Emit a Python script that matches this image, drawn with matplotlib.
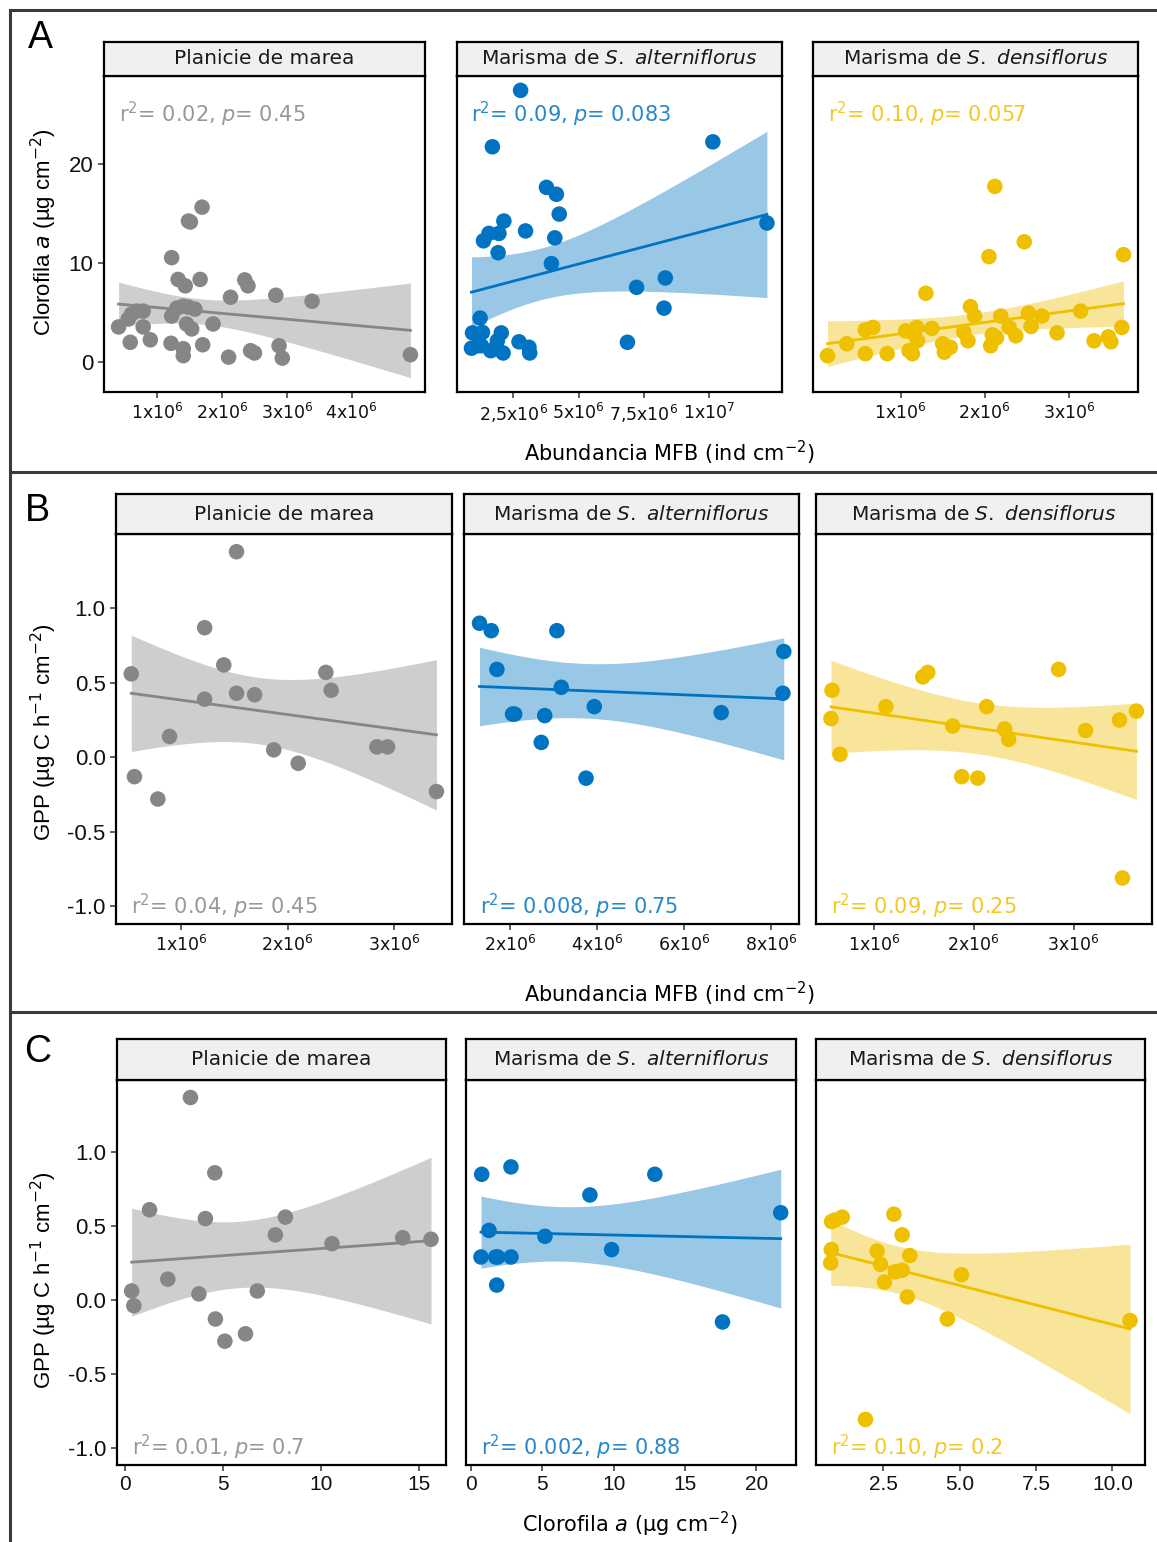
import numpy as np
import matplotlib
matplotlib.use('agg')
import matplotlib.pyplot as plt
from matplotlib.lines import Line2D

plt.rcParams['font.family'] = 'DejaVu Sans'
plt.rcParams['mathtext.fontset'] = 'dejavusans'

W, H = 1157, 1542

facet_names = ['Planicie de marea',
               'Marisma de $\\mathit{S.\\ alterniflorus}$',
               'Marisma de $\\mathit{S.\\ densiflorus}$']
colors = ['#868686', '#0073C2', '#EFC000']

# A: clorofila a vs abundancia MFB (x in millions of ind cm-2)
a_plan_x = [0.40, 0.55, 0.60, 0.68, 0.78, 0.58, 0.78, 0.89, 1.21, 1.22, 1.22, 1.32, 1.43, 1.30, 1.40,
            1.48, 1.51, 1.69, 1.66, 1.45, 1.53, 1.40, 1.40, 1.48, 1.58, 1.70, 1.86, 2.10, 2.13, 2.35,
            2.40, 2.44, 2.50, 2.83, 2.88, 2.93, 3.39, 4.91]
a_plan_y = [3.5, 4.3, 4.8, 5.1, 5.1, 1.95, 3.5, 2.2, 1.85, 10.5, 4.6, 8.3, 7.65, 5.4, 5.6,
            14.2, 14.1, 15.6, 8.3, 3.8, 3.3, 1.3, 0.6, 5.5, 5.3, 1.7, 3.8, 0.45, 6.5, 8.25,
            7.65, 1.1, 0.87, 6.7, 1.6, 0.35, 6.1, 0.7]
a_alt_x = [2.78, 1.70, 3.77, 4.15, 4.26, 4.09, 3.96, 2.97, 2.14, 1.36, 1.57, 1.95, 1.92, 1.23, 0.94,
           1.32, 2.04, 0.90, 1.28, 1.64, 1.89, 2.11, 2.72, 3.10, 3.13, 1.13, 6.87, 7.22, 8.32, 8.27,
           10.14, 12.21]
a_alt_y = [27.4, 21.7, 17.6, 16.9, 14.9, 12.5, 9.9, 13.2, 14.2, 12.2, 12.95, 12.95, 11.0, 4.4, 2.9,
           2.95, 2.9, 1.35, 1.6, 1.1, 2.1, 0.87, 2.0, 1.45, 0.87, 1.6, 1.95, 7.5, 8.45, 5.4,
           22.2, 14.0]
a_den_x = [0.13, 0.36, 0.58, 0.58, 0.67, 0.84, 1.06, 1.10, 1.14, 1.19, 1.20, 1.16, 1.30, 1.37, 1.50,
           1.52, 1.59, 1.75, 1.80, 1.83, 1.88, 2.05, 2.07, 2.09, 2.14, 2.12, 2.19, 2.29, 2.37, 2.47,
           2.52, 2.55, 2.68, 2.86, 3.14, 3.30, 3.47, 3.50, 3.63, 3.65]
a_den_y = [0.6, 1.8, 0.8, 3.2, 3.45, 0.8, 3.1, 1.1, 0.8, 3.45, 2.1, 2.8, 6.9, 3.35, 1.8,
           0.95, 1.45, 3.0, 2.1, 5.55, 4.6, 10.6, 1.6, 2.7, 2.4, 17.7, 4.6, 3.45, 2.6, 12.1,
           4.9, 3.55, 4.6, 2.9, 5.1, 2.1, 2.5, 2.0, 3.45, 10.8]

# B: GPP vs abundancia MFB (millions)
b_plan_x = [0.53, 0.56, 0.78, 0.89, 1.22, 1.22, 1.40, 1.52, 1.52, 1.69, 1.87, 2.10, 2.36, 2.41, 2.84, 2.94, 3.40]
b_plan_y = [0.56, -0.13, -0.28, 0.14, 0.87, 0.39, 0.62, 1.38, 0.43, 0.42, 0.05, -0.04, 0.57, 0.45, 0.07, 0.07, -0.23]
b_alt_x = [1.29, 1.56, 1.69, 2.05, 2.10, 2.79, 2.71, 3.07, 3.17, 3.74, 3.93, 6.85, 8.29, 8.27]
b_alt_y = [0.90, 0.85, 0.59, 0.29, 0.29, 0.28, 0.10, 0.85, 0.47, -0.14, 0.34, 0.30, 0.71, 0.43]
b_den_x = [0.58, 0.57, 0.66, 1.12, 1.49, 1.54, 1.79, 1.88, 2.04, 2.13, 2.31, 2.35, 2.85, 3.12, 3.46, 3.63, 3.49]
b_den_y = [0.45, 0.26, 0.02, 0.34, 0.54, 0.57, 0.21, -0.13, -0.14, 0.34, 0.19, 0.12, 0.59, 0.18, 0.25, 0.31, -0.81]

# C: GPP vs clorofila a
c_plan_x = [0.36, 0.47, 1.27, 2.20, 3.35, 3.78, 4.11, 4.59, 4.62, 5.10, 6.15, 6.75, 7.67, 8.18, 10.55, 14.15, 15.59]
c_plan_y = [0.06, -0.04, 0.61, 0.14, 1.37, 0.04, 0.55, 0.86, -0.13, -0.28, -0.23, 0.06, 0.44, 0.56, 0.38, 0.42, 0.41]
c_alt_x = [0.75, 2.80, 12.88, 8.33, 21.70, 1.26, 5.18, 9.85, 0.70, 1.73, 1.87, 2.80, 1.80, 17.62]
c_alt_y = [0.85, 0.90, 0.85, 0.71, 0.59, 0.47, 0.43, 0.34, 0.29, 0.29, 0.29, 0.29, 0.10, -0.15]
c_den_x = [0.81, 0.92, 1.16, 0.80, 0.78, 2.30, 2.41, 2.54, 2.85, 3.12, 3.37, 2.90, 3.12, 3.29, 4.60, 5.06, 1.92, 10.58]
c_den_y = [0.53, 0.54, 0.56, 0.34, 0.25, 0.33, 0.24, 0.12, 0.58, 0.44, 0.30, 0.19, 0.20, 0.02, -0.13, 0.17, -0.81, -0.14]

a_r2 = ['0.02', '0.09', '0.10']
a_p = ['0.45', '0.083', '0.057']
b_r2 = ['0.04', '0.008', '0.09']
b_p = ['0.45', '0.75', '0.25']
c_r2 = ['0.01', '0.002', '0.10']
c_p = ['0.7', '0.88', '0.2']

a_xticks = [[1, 2, 3, 4], [2.5, 5, 7.5, 10], [1, 2, 3]]
a_xticklabels = [['1x10$^6$', '2x10$^6$', '3x10$^6$', '4x10$^6$'],
                 ['2,5x10$^6$', '5x10$^6$', '7,5x10$^6$', '1x10$^7$'],
                 ['1x10$^6$', '2x10$^6$', '3x10$^6$']]
b_xticks = [[1, 2, 3], [2, 4, 6, 8], [1, 2, 3]]
b_xticklabels = [['1x10$^6$', '2x10$^6$', '3x10$^6$'],
                 ['2x10$^6$', '4x10$^6$', '6x10$^6$', '8x10$^6$'],
                 ['1x10$^6$', '2x10$^6$', '3x10$^6$']]
c_xticks = [[0, 5, 10, 15], [0, 5, 10, 15, 20], [2.5, 5, 7.5, 10]]
c_xticklabels = [['0', '5', '10', '15'], ['0', '5', '10', '15', '20'], ['2.5', '5.0', '7.5', '10.0']]

chl_yticks = [0, 10, 20]
chl_yticklabels = ['0', '10', '20']
gpp_yticks = [-1.0, -0.5, 0.0, 0.5, 1.0]
gpp_yticklabels = ['-1.0', '-0.5', '0.0', '0.5', '1.0']


def t975(df):
    # Cornish-Fisher approximation of the 97.5% t quantile
    z = 1.959964
    return (z + (z**3 + z) / (4 * df) + (5 * z**5 + 16 * z**3 + 3 * z) / (96 * df**2)
            + (3 * z**7 + 19 * z**5 + 17 * z**3 - 15 * z) / (384 * df**3))


def lm_band(x, y, npts=100):
    x = np.asarray(x, float)
    y = np.asarray(y, float)
    n = len(x)
    b1, b0 = np.polyfit(x, y, 1)
    resid = y - (b0 + b1 * x)
    s2 = np.sum(resid**2) / (n - 2)
    sxx = np.sum((x - x.mean())**2)
    xs = np.linspace(x.min(), x.max(), npts)
    fit = b0 + b1 * xs
    se = np.sqrt(s2 * (1.0 / n + (xs - x.mean())**2 / sxx))
    t = t975(n - 2)
    return xs, fit, fit - t * se, fit + t * se


def px_axes(fig, l, t, r, b):
    return fig.add_axes([l / W, 1 - b / H, (r - l) / W, (b - t) / H])


def ftext(fig, x, y, s, **kw):
    fig.text(x / W, 1 - y / H, s, **kw)


def draw_row(fig, layout, xs, ys, xticks, xticklabels, xtick_font, xtick_size,
             yticks, yticklabels, r2, p, stat_y, ylabel, ylab_pos, xlabel, xlab_pos,
             letter, letter_pos):
    fits = [lm_band(x, y) for x, y in zip(xs, ys)]
    lo = min(min(min(y) for y in ys), min(f[2].min() for f in fits), stat_y)
    hi = max(max(max(y) for y in ys), max(f[3].max() for f in fits), stat_y)
    span = hi - lo
    ylim = (lo - 0.05 * span, hi + 0.05 * span)

    for i in range(3):
        l, r = layout['x'][i]
        ax = px_axes(fig, l, layout['top'], r, layout['bottom'])
        sx = px_axes(fig, l, layout['strip'], r, layout['top'])

        x = np.asarray(xs[i]); y = np.asarray(ys[i])
        gx, fit, clo, chi = fits[i]
        ax.fill_between(gx, clo, chi, color=colors[i], alpha=0.4, lw=0, zorder=1)
        ax.plot(gx, fit, color=colors[i], lw=2.0, zorder=2)
        ax.scatter(x, y, s=125, color=colors[i], edgecolors='none', zorder=3)

        xspan = x.max() - x.min()
        ax.set_xlim(x.min() - 0.05 * xspan, x.max() + 0.05 * xspan)
        ax.set_ylim(*ylim)
        ax.set_xticks(xticks[i])
        ax.set_xticklabels(xticklabels[i], fontsize=xtick_size, family=xtick_font)
        ax.set_yticks(yticks)
        ax.set_yticklabels(yticklabels, fontsize=16, family='Liberation Sans')
        ax.tick_params(direction='out', length=4.5, width=1.1, color='#333333', pad=3,
                       labelcolor='#111111')
        if i > 0:
            ax.tick_params(axis='y', left=False, labelleft=False)
        for sp in ax.spines.values():
            sp.set_linewidth(1.6)
            sp.set_color('black')

        ax.text(x.min(), stat_y, 'r$^2$= %s, $p$= %s' % (r2[i], p[i]), color=colors[i],
                alpha=0.85, fontsize=15, ha='left', va='center', zorder=4)

        sx.set_facecolor('#f0f0f0')
        sx.set_xticks([]); sx.set_yticks([])
        for sp in sx.spines.values():
            sp.set_linewidth(1.6)
            sp.set_color('black')
        sx.text(0.5, 0.5, facet_names[i], transform=sx.transAxes, ha='center',
                va='center', fontsize=14.5, color='#1a1a1a')

    ftext(fig, ylab_pos[0], ylab_pos[1], ylabel, rotation=90, ha='center', va='center',
          fontsize=16, family='Liberation Sans')
    ftext(fig, xlab_pos[0], xlab_pos[1], xlabel, ha='center', va='center', fontsize=15)
    ftext(fig, letter_pos[0], letter_pos[1], letter, ha='center', va='center',
          fontsize=27, family='Liberation Sans')


fig = plt.figure(figsize=(W / 100, H / 100), dpi=100)

row_a = {'strip': 42, 'top': 76, 'bottom': 392,
         'x': [(104, 425), (456.7, 781.7), (812.7, 1138.3)]}
row_b = {'strip': 494, 'top': 534, 'bottom': 924,
         'x': [(116, 451.7), (464.3, 799), (815.7, 1151.7)]}
row_c = {'strip': 1039, 'top': 1080, 'bottom': 1465,
         'x': [(116.7, 446), (466, 795.7), (815.7, 1145)]}

abund_label = 'Abundancia MFB (ind cm$^{-2}$)'
gpp_label = 'GPP (µg C h$^{-1}$ cm$^{-2}$)'

draw_row(fig, row_a, [a_plan_x, a_alt_x, a_den_x], [a_plan_y, a_alt_y, a_den_y],
         a_xticks, a_xticklabels, 'DejaVu Sans', 12.5, chl_yticks, chl_yticklabels,
         a_r2, a_p, 25, 'Clorofila $\\mathit{a}$ (µg cm$^{-2}$)', (44, 232),
         abund_label, (669, 453), 'A', (40, 38))
draw_row(fig, row_b, [b_plan_x, b_alt_x, b_den_x], [b_plan_y, b_alt_y, b_den_y],
         b_xticks, b_xticklabels, 'DejaVu Sans', 12.5, gpp_yticks, gpp_yticklabels,
         b_r2, b_p, -1.0, gpp_label, (44, 732), abund_label, (669, 994), 'B', (37, 511))
draw_row(fig, row_c, [c_plan_x, c_alt_x, c_den_x], [c_plan_y, c_alt_y, c_den_y],
         c_xticks, c_xticklabels, 'Liberation Sans', 15, gpp_yticks, gpp_yticklabels,
         c_r2, c_p, -1.0, gpp_label, (44, 1280),
         'Clorofila $\\mathit{a}$ (µg cm$^{-2}$)', (630, 1524), 'C', (38, 1052))

# panel frames
frame = dict(color='#3a3a3a', lw=2.2, transform=fig.transFigure)
fig.add_artist(Line2D([10 / W, 10 / W], [1 - 10 / H, 0], **frame))
for yy in [10, 472, 1012]:
    fig.add_artist(Line2D([10 / W, 1], [1 - yy / H, 1 - yy / H], **frame))

fig.savefig('out.png', dpi=100, facecolor='white')
